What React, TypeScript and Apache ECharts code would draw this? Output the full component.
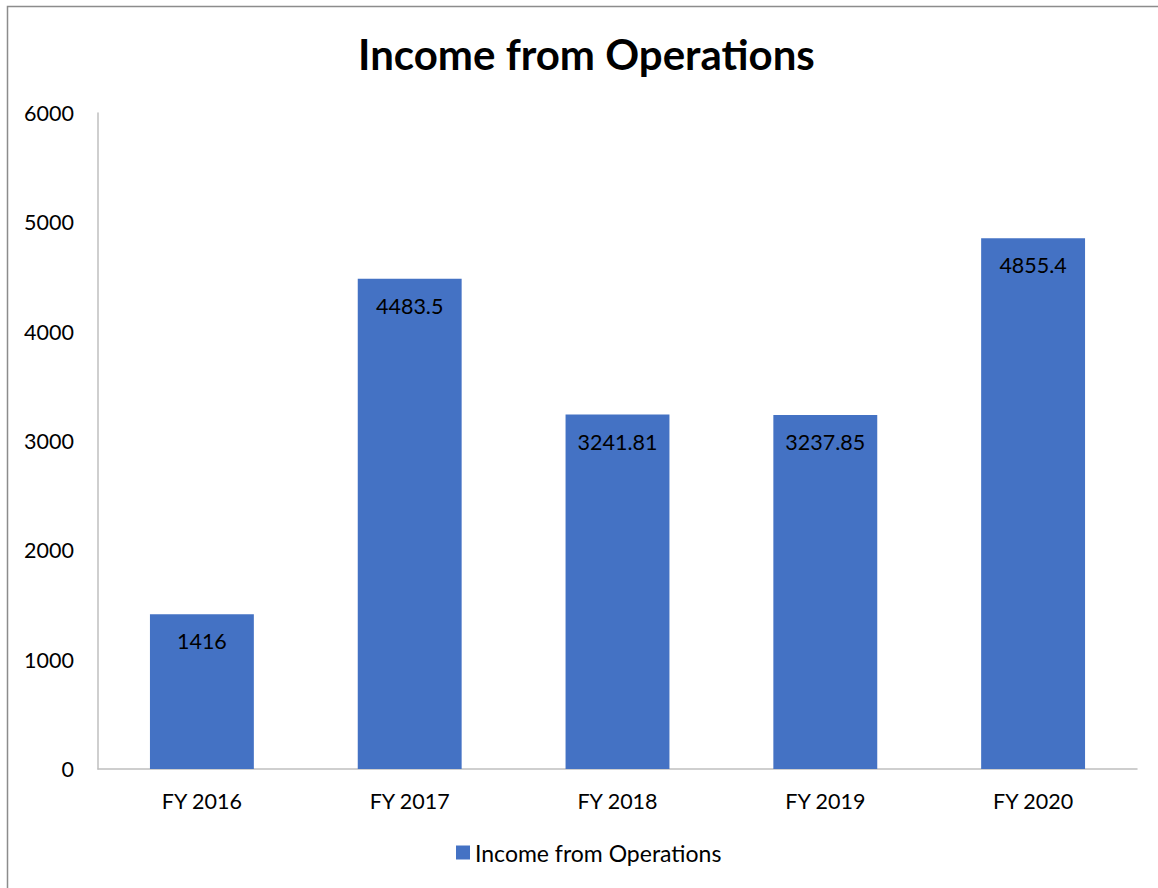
import React, { useEffect, useRef } from "react";
import * as echarts from "echarts";

const categories = ["FY 2016", "FY 2017", "FY 2018", "FY 2019", "FY 2020"];
const values = [1416, 4483.5, 3241.81, 3237.85, 4855.4];
const seriesName = "Income from Operations";
const titleText = "Income from Operations";

export default function App() {
  const ref = useRef<HTMLDivElement>(null);
  useEffect(() => {
    document.body.style.margin = "0";
    const chart = echarts.init(ref.current!, null, { renderer: "svg" });
    const font = "Lato, 'Open Sans', sans-serif";
    chart.setOption({
      animation: false,
      backgroundColor: "#ffffff",
      textStyle: { fontFamily: font },
      title: {
        text: titleText,
        left: 358,
        top: 33,
        padding: 0,
        textStyle: { fontFamily: font, fontSize: 42, fontWeight: "bold", color: "#000" },
      },
      graphic: [
        {
          type: "rect",
          shape: { x: 7.5, y: 6.5, width: 1200, height: 1000 },
          style: { fill: "none", stroke: "#8c8c8c", lineWidth: 1.5 },
          silent: true,
        },
      ],
      legend: {
        data: [seriesName],
        top: 841,
        left: 456,
        padding: 0,
        icon: "rect",
        itemWidth: 14,
        itemHeight: 14,
        itemGap: 6,
        textStyle: { fontFamily: font, fontSize: 23, color: "#000" },
      },
      grid: { left: 98, right: 21, top: 113, bottom: 119, containLabel: false },
      xAxis: {
        type: "category",
        data: categories,
        axisLine: { show: true, lineStyle: { color: "#bfbfbf", width: 1.5 } },
        axisTick: { show: false },
        axisLabel: { fontFamily: font, fontSize: 21.5, color: "#000", margin: 21 },
      },
      yAxis: {
        type: "value",
        min: 0,
        max: 6000,
        interval: 1000,
        splitLine: { show: false },
        axisLine: { show: true, lineStyle: { color: "#bfbfbf", width: 1.5 } },
        axisTick: { show: false },
        axisLabel: {
          fontFamily: font,
          fontSize: 21.5,
          color: "#000",
          margin: 24,
          formatter: (v: number) => String(v),
        },
      },
      series: [
        {
          name: seriesName,
          type: "bar",
          data: values,
          barWidth: "50%",
          itemStyle: { color: "#4472C4" },
          label: {
            show: true,
            position: "insideTop",
            distance: 16,
            fontFamily: font,
            fontSize: 21.5,
            color: "#000",
          },
        },
      ],
    });
    return () => chart.dispose();
  }, []);
  return <div ref={ref} style={{ width: 1158, height: 888 }} />;
}
